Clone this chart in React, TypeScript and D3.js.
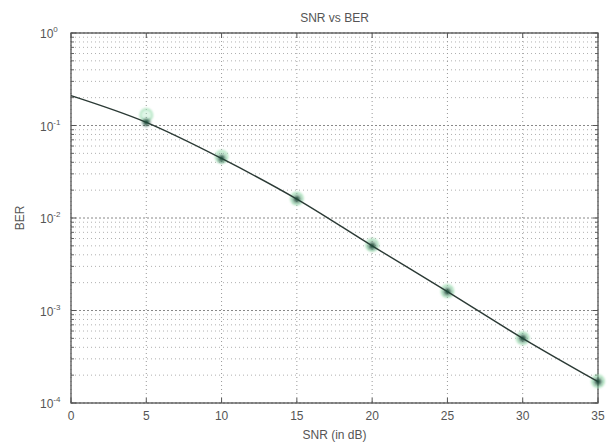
import React from "react";
import * as d3 from "d3";

const snrCurve = [0, 5, 10, 15, 20, 25, 30, 35];
const berTheory = [0.21, 0.108, 0.044, 0.016, 0.005, 0.0016, 0.0005, 0.00017];
const snrMarks = [5, 10, 15, 20, 25, 30, 35];
const berSim = [0.13, 0.046, 0.0162, 0.0051, 0.00162, 0.0005, 0.000172];
const berStar = [0.108, 0.044, 0.016, 0.005, 0.0016, 0.0005, 0.00017];
const xTicks = [0, 5, 10, 15, 20, 25, 30, 35];
const yExps = [0, -1, -2, -3, -4];

const W = 610, H = 444;
const L = 71, R = 598, T = 33, B = 403;

export default function App() {
  const x = d3.scaleLinear().domain([0, 35]).range([L, R]);
  const y = d3.scaleLog().domain([1e-4, 1]).range([B, T]);
  const line = d3
    .line<number>()
    .x((_, i) => x(snrCurve[i]))
    .y((d) => y(d))
    .curve(d3.curveMonotoneX);
  const minor: number[] = [];
  for (let e = -4; e < 0; e++) for (let m = 2; m <= 9; m++) minor.push(m * Math.pow(10, e));
  const font = "'Liberation Sans', Arial, sans-serif";
  const txt = "#555";
  const starPath = (cx: number, cy: number, s: number) => {
    let p = "";
    for (let k = 0; k < 4; k++) {
      const a = (k * Math.PI) / 4;
      const dx = Math.cos(a) * s, dy = Math.sin(a) * s;
      p += `M${cx - dx},${cy - dy}L${cx + dx},${cy + dy}`;
    }
    return p;
  };
  return (
    <svg width={W} height={H} style={{ position: "absolute", left: 0, top: 0, background: "#fff" }}>
      <defs>
        <filter id="blur" x="-50%" y="-50%" width="200%" height="200%">
          <feGaussianBlur stdDeviation="1.3" />
        </filter>
      </defs>
      <rect x={0} y={0} width={W} height={H} fill="#fff" />
      {minor.map((v, i) => (
        <line key={"mn" + i} x1={L} x2={R} y1={y(v)} y2={y(v)} stroke="#b0b0b0" strokeWidth={1} strokeDasharray="1,3" />
      ))}
      {yExps.map((e) => (
        <line key={"mj" + e} x1={L} x2={R} y1={y(Math.pow(10, e))} y2={y(Math.pow(10, e))} stroke="#888" strokeWidth={1} strokeDasharray="2,2" />
      ))}
      {xTicks.map((t) => (
        <line key={"vx" + t} x1={x(t)} x2={x(t)} y1={T} y2={B} stroke="#999" strokeWidth={1} strokeDasharray="1,3" />
      ))}
      {xTicks.map((t) => (
        <g key={"xt" + t}>
          <line x1={x(t)} x2={x(t)} y1={B} y2={B - 5} stroke="#555" />
          <line x1={x(t)} x2={x(t)} y1={T} y2={T + 5} stroke="#555" />
        </g>
      ))}
      {yExps.map((e) => (
        <g key={"yt" + e}>
          <line x1={L} x2={L + 5} y1={y(Math.pow(10, e))} y2={y(Math.pow(10, e))} stroke="#555" />
          <line x1={R} x2={R - 5} y1={y(Math.pow(10, e))} y2={y(Math.pow(10, e))} stroke="#555" />
        </g>
      ))}
      {minor.map((v, i) => (
        <g key={"ymt" + i}>
          <line x1={L} x2={L + 3} y1={y(v)} y2={y(v)} stroke="#666" />
          <line x1={R} x2={R - 3} y1={y(v)} y2={y(v)} stroke="#666" />
        </g>
      ))}
      <rect x={L} y={T} width={R - L} height={B - T} fill="none" stroke="#555" strokeWidth={1.3} />
      <g filter="url(#blur)">
        {snrMarks.map((s, i) => (
          <circle key={"c" + i} cx={x(s)} cy={y(berSim[i])} r={6} fill="rgba(150,225,175,0.3)" stroke="#a3dfb6" strokeWidth={1.5} />
        ))}
      </g>
      <path d={line(berTheory) || ""} fill="none" stroke="#2b3a35" strokeWidth={1.4} />
      <g filter="url(#blur)">
        {snrMarks.map((s, i) => (
          <path key={"s" + i} d={starPath(x(s), y(berStar[i]), 4.5)} stroke="#1d4a38" strokeWidth={1.2} />
        ))}
      </g>
      {xTicks.map((t) => (
        <text key={"xl" + t} x={x(t)} y={B + 17} textAnchor="middle" fontFamily={font} fontSize={12} fill={txt}>
          {t}
        </text>
      ))}
      {yExps.map((e) => (
        <text key={"yl" + e} x={L - 31} y={y(Math.pow(10, e)) + 5} fontFamily={font} fontSize={12} fill={txt}>
          10
          <tspan dy={-6} fontSize={8}>{e}</tspan>
        </text>
      ))}
      <text x={(L + R) / 2} y={22} textAnchor="middle" fontFamily={font} fontSize={12} fill={txt}>
        SNR vs BER
      </text>
      <text x={(L + R) / 2} y={439} textAnchor="middle" fontFamily={font} fontSize={12} fill={txt}>
        SNR (in dB)
      </text>
      <text transform={`translate(24,${(T + B) / 2}) rotate(-90)`} textAnchor="middle" fontFamily={font} fontSize={12} fill={txt}>
        BER
      </text>
    </svg>
  );
}
